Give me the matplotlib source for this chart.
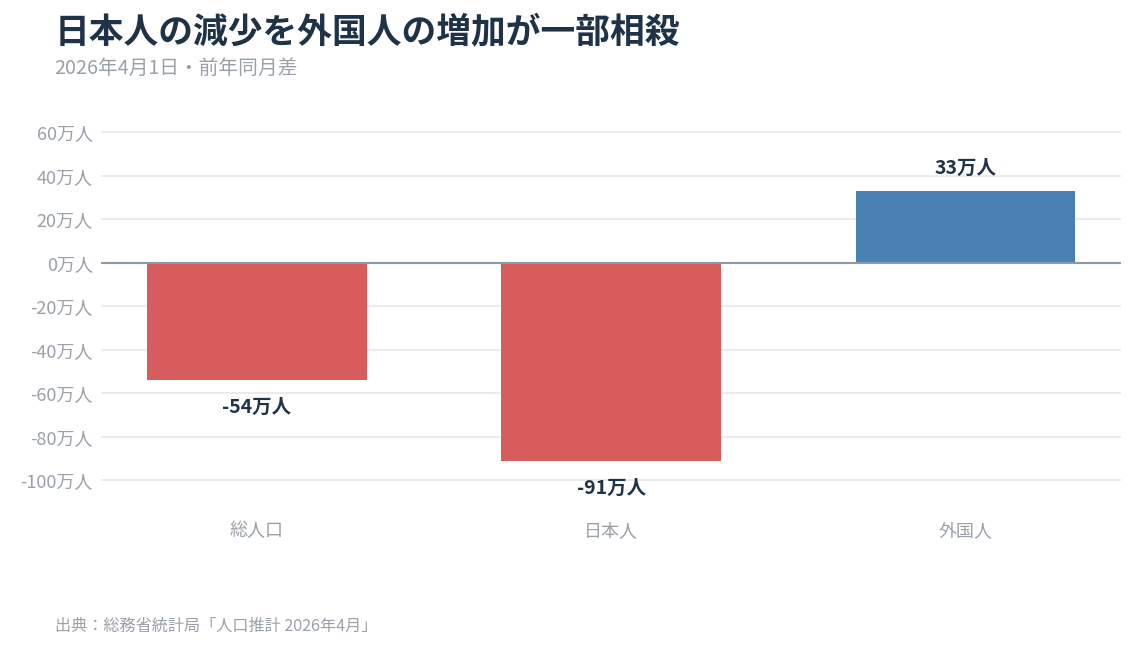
import matplotlib.pyplot as plt
import numpy as np

plt.rcParams['font.family'] = ['Noto Sans CJK JP', 'DejaVu Sans']

# data (万人, 前年同月差)
categories = ['総人口', '日本人', '外国人']
values = [-54, -91, 33]
bar_colors = ['#d75c5c', '#d75c5c', '#4a81b3']
yticks = [60, 40, 20, 0, -20, -40, -60, -80, -100]

title_color = '#1e3348'
gray = '#9aa0a8'

fig = plt.figure(figsize=(11.36, 6.49), dpi=100)
ax = fig.add_axes([0.089, 0.253, 0.898, 0.55])

x = np.arange(len(categories))
ax.bar(x, values, width=0.62, color=bar_colors, zorder=3)

ax.set_xlim(-0.44, 2.44)
ax.set_ylim(-102, 62)
ax.set_yticks(yticks)
ax.set_yticklabels([f'{v}万人' for v in yticks], color=gray, fontsize=13)
ax.set_xticks(x)
ax.set_xticklabels(categories, color=gray, fontsize=13)
ax.tick_params(axis='both', length=0)
ax.tick_params(axis='x', pad=27)
ax.tick_params(axis='y', pad=6)
for s in ax.spines.values():
    s.set_visible(False)
ax.grid(axis='y', color='#ebebeb', linewidth=1.5, zorder=0)
ax.axhline(0, color='#8c99a6', linewidth=1.5, zorder=4)

# value labels
for xi, v in zip(x, values):
    off = 16 if v > 0 else -19.5
    ax.annotate(f'{v}万人', (xi, v), xytext=(0, off), textcoords='offset points',
                ha='center', va='center', fontsize=14, fontweight='bold',
                color=title_color)

fig.text(0.048, 0.949, '日本人の減少を外国人の増加が一部相殺', fontsize=25,
         fontweight='bold', color=title_color, va='center')
fig.text(0.048, 0.894, '2026年4月1日・前年同月差', fontsize=14.2, color=gray,
         va='center')
fig.text(0.048, 0.035, '出典：総務省統計局「人口推計 2026年4月」', fontsize=11.6,
         color=gray, va='center')

plt.savefig('out.png', dpi=100)
